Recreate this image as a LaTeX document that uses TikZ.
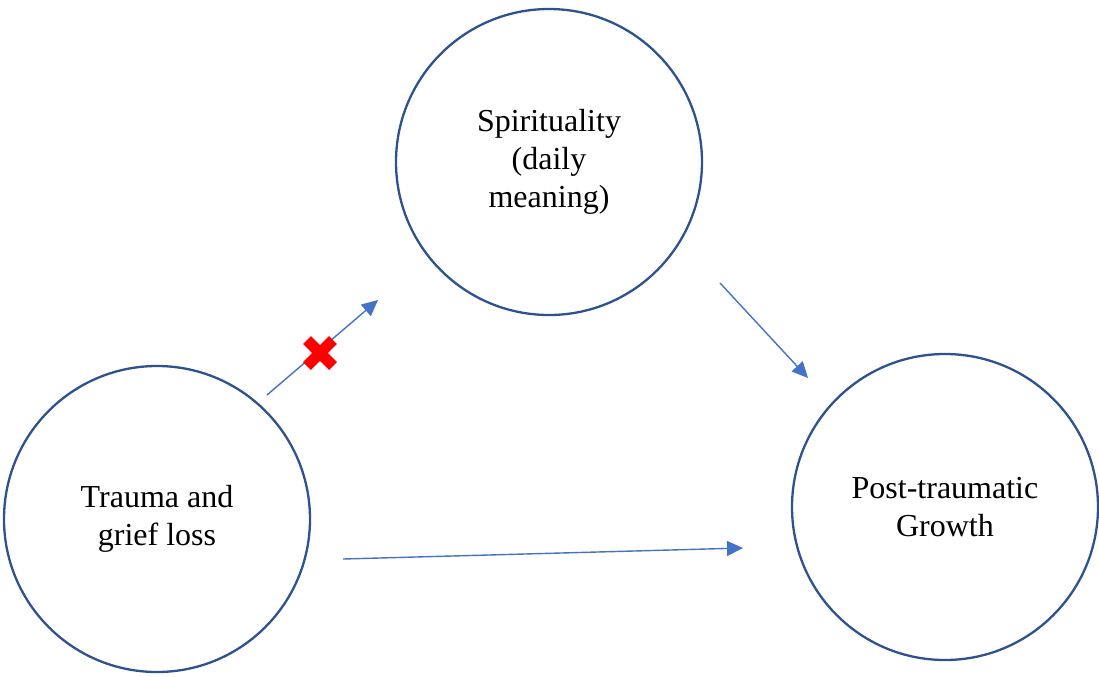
\documentclass[tikz,border=0pt]{standalone}
\usepackage{fontspec}
\setmainfont{Liberation Serif}
\usepackage{tikz}
\usetikzlibrary{arrows.meta,positioning}
\definecolor{ringblue}{HTML}{2F528F}
\definecolor{linkblue}{HTML}{4472C4}
\tikzset{
  ring/.style={circle, draw=ringblue, line width=1.15pt, minimum size=153pt, inner sep=0pt, align=center, font=\fontsize{16}{19}\selectfont},
  link/.style={-{Triangle[length=8pt,width=7.5pt]}, line width=0.7pt, draw=linkblue},
  nolink/.style={draw=red, line width=5.5pt},
}
\begin{document}
\begin{tikzpicture}[x=0.5pt,y=-0.5pt]
  \useasboundingbox (0,0) rectangle (1099,676);
  \node[ring] (spirit) at (549,162) {Spirituality\\(daily\\meaning)};
  \node[ring] (trauma) at (157,519) {Trauma and\\grief loss};
  \node[ring] (growth) at (945,507) {Post-traumatic\\Growth};
  % free ends of the three paths
  \coordinate (ts0) at (267,395);  \coordinate (ts1) at (378,300);
  \coordinate (sg0) at (720,283);  \coordinate (sg1) at (808,378);
  \coordinate (tg0) at (343,559);  \coordinate (tg1) at (743,548);
  \draw[link] (ts0)--(ts1);
  \draw[link] (sg0)--(sg1);
  \draw[link] (tg0)--(tg1);
  % rejected path
  \coordinate (cross) at (320,353);
  \draw[nolink] (cross) ++(-13,-13) -- ++(26,26);
  \draw[nolink] (cross) ++(-13,13) -- ++(26,-26);
\end{tikzpicture}
\end{document}
